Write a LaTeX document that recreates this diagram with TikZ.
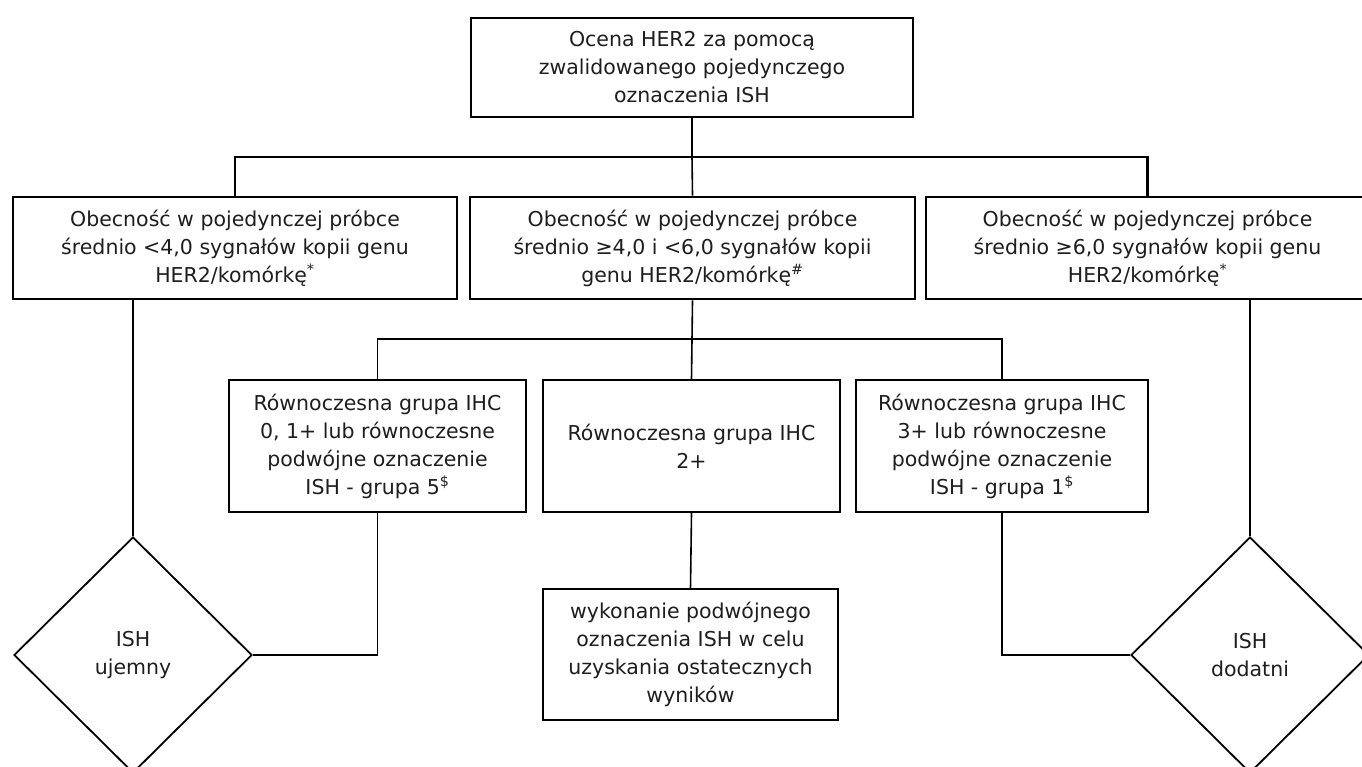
\documentclass[tikz,border=0pt]{standalone}
\usepackage{fontspec}
\setmainfont{DejaVu Sans}
\usetikzlibrary{shapes.geometric}
\definecolor{ink}{HTML}{1E1E1E}
\begin{document}
\begin{tikzpicture}[x=1pt,y=-1pt,
  every node/.style={text=ink,font=\fontsize{20.5}{28}\selectfont,align=center,inner sep=0pt},
  box/.style={draw=black,line width=2pt,rectangle,minimum height=102pt},
  heavybox/.style={box,line width=2.6pt},
  lightbox/.style={box,line width=1.6pt},
  result/.style={draw=black,line width=1.8pt,diamond,minimum width=238pt,minimum height=236pt},
  link/.style={draw=black,line width=1.6pt},
  heavylink/.style={draw=black,line width=2.4pt}]
\useasboundingbox (0,0) rectangle (1362,767);
\clip (0,0) rectangle (1362,767);

% level 0
\node[heavybox,minimum width=442pt,minimum height=99pt] (top) at (692,67.5)
  {Ocena HER2 za pomocą\\zwalidowanego pojedynczego\\oznaczenia ISH};

% level 1
\node[box,minimum width=444pt] (left) at (235,248)
  {Obecność w pojedynczej próbce\\średnio <4,0 sygnałów kopii genu\\HER2/komórkę\textsuperscript{*}};
\node[heavybox,minimum width=445pt] (mid) at (692.5,248)
  {Obecność w pojedynczej próbce\\średnio ≥4,0 i <6,0 sygnałów kopii\\genu HER2/komórkę\textsuperscript{\#}};
\node[box,minimum width=443pt] (right) at (1147.5,248)
  {Obecność w pojedynczej próbce\\średnio ≥6,0 sygnałów kopii genu\\HER2/komórkę\textsuperscript{*}};

% level 2
\node[heavybox,minimum width=297pt,minimum height=132pt] (ihcA) at (377.5,446)
  {Równoczesna grupa IHC\\0, 1+ lub równoczesne\\podwójne oznaczenie\\ISH - grupa 5\textsuperscript{\$}};
\node[lightbox,minimum width=297pt,minimum height=132pt] (ihcB) at (691.5,446)
  {Równoczesna grupa IHC\\2+};
\node[heavybox,minimum width=292pt,minimum height=132pt] (ihcC) at (1002,446)
  {Równoczesna grupa IHC\\3+ lub równoczesne\\podwójne oznaczenie\\ISH - grupa 1\textsuperscript{\$}};

% level 3
\node[box,minimum width=295pt,minimum height=131pt] (dual) at (690.5,654.5)
  {wykonanie podwójnego\\oznaczenia ISH w celu\\uzyskania ostatecznych\\wyników};

% outcomes
\node[result] (neg) at (133,655) {ISH\\ujemny};
\node[result] (pos) at (1250,655) {ISH\\dodatni};

% junctions
\coordinate (j1) at (692,157);
\coordinate (j2) at (692,339);

% connectors
\draw[link] (top.south) -- (j1);
\draw[link] (left.north) |- (j1) -| (right.north);
\draw[heavylink] (left.north) -- +(0,-40);
\draw[heavylink] (right.north) -- +(0,-40);
\draw[link] (j1) -- (mid.north);
\draw[link] (mid.south) -- (j2);
\draw[link,line width=1.3pt] (ihcA.north) |- (j2) -| (ihcC.north);
\draw[link] (j2) -- (ihcB.north);
\draw[link] (ihcB.south) -- (dual.north);
\draw[link] (neg.north |- left.south) -- (neg.north);
\draw[link] (pos.north |- right.south) -- (pos.north);
\draw[link] (ihcA.south) |- (neg.east);
\draw[link] (ihcC.south) |- (pos.west);
\end{tikzpicture}
\end{document}
